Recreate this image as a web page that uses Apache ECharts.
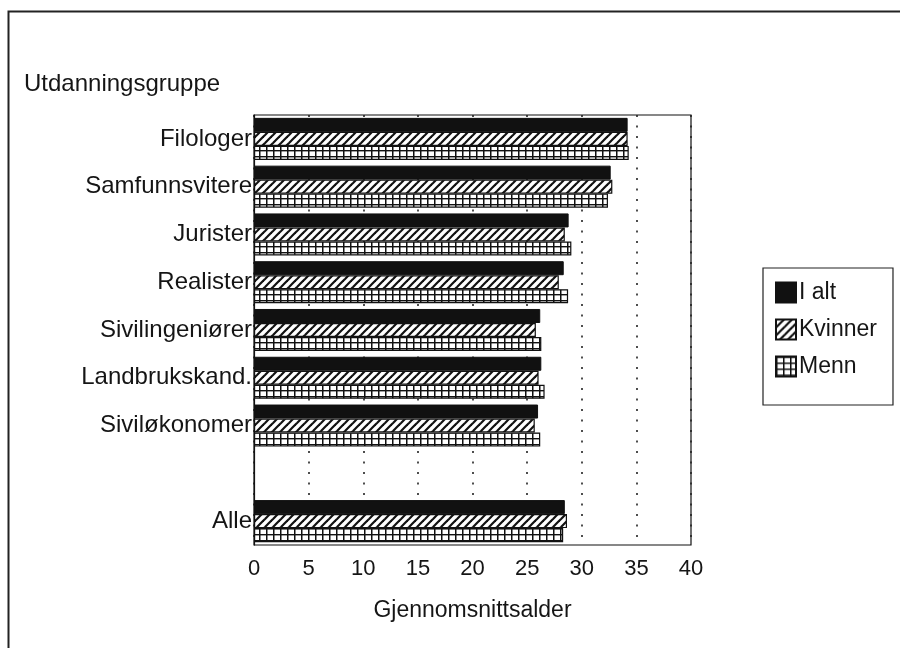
<!DOCTYPE html>
<html><head><meta charset="utf-8">
<script src="https://cdn.jsdelivr.net/npm/echarts@6/dist/echarts.min.js"></script>
<style>html,body{margin:0;padding:0;background:#fff}#c{width:900px;height:648px}</style>
</head><body><div id="c"></div>
<script>
const categories = ['Filologer','Samfunnsvitere','Jurister','Realister','Sivilingeniører','Landbrukskand.','Siviløkonomer','','Alle'];
const iAlt    = [34.2, 32.65, 28.8, 28.35, 26.2, 26.3, 26.0, null, 28.45];
const kvinner = [34.2, 32.8, 28.45, 27.9, 25.8, 26.05, 25.7, null, 28.65];
const menn    = [34.3, 32.4, 29.05, 28.75, 26.3, 26.6, 26.2, null, 28.3];
const xTicks = [0,5,10,15,20,25,30,35,40];

function hatch(){
  const c=document.createElement('canvas'); c.width=8; c.height=8;
  const g=c.getContext('2d'); g.fillStyle='#fff'; g.fillRect(0,0,8,8);
  g.strokeStyle='#111'; g.lineWidth=2.2; g.lineCap='square';
  for(let k=-1;k<=1;k++){ g.beginPath(); g.moveTo(k*8-1,9); g.lineTo(k*8+9,-1); g.stroke(); }
  return {image:c, repeat:'repeat'};
}
function grid(){
  const c=document.createElement('canvas'); c.width=7; c.height=6;
  const g=c.getContext('2d'); g.fillStyle='#fff'; g.fillRect(0,0,7,6);
  g.fillStyle='#111'; g.fillRect(0,0,1.5,6); g.fillRect(0,0,7,1.4);
  return {image:c, repeat:'repeat'};
}
const font = '"Liberation Sans", Arial, Helvetica, sans-serif';
const FS = 23;
const chart = echarts.init(document.getElementById('c'));
chart.setOption({
  animation:false,
  textStyle:{fontFamily:font, color:'#151515'},
  title:{text:'Utdanningsgruppe', left:24, top:72, padding:0, textStyle:{fontFamily:font, fontSize:24, fontWeight:'normal', color:'#151515'}},
  graphic:[{type:'rect', shape:{x:8.5,y:11.5,width:900,height:648}, style:{fill:'none', stroke:'#222', lineWidth:2}, silent:true}],
  grid:{left:254, right:209, top:115, bottom:103, show:true, borderColor:'#111', borderWidth:1.2, backgroundColor:'transparent'},
  legend:{orient:'vertical', left:763, top:268,
    padding:[13,16,27,12], itemGap:14, itemWidth:20, itemHeight:20,
    borderColor:'#222', borderWidth:1.2, backgroundColor:'#fff',
    textStyle:{fontFamily:font, fontSize:FS, color:'#151515', padding:[0,0,0,-2]},
    icon:'rect', data:['I alt','Kvinner','Menn']},
  xAxis:{type:'value', min:0, max:40, interval:5,
    axisLine:{show:false}, axisTick:{show:false},
    axisLabel:{fontSize:22, color:'#151515', margin:13, fontFamily:font, formatter:v=>xTicks.includes(v)?String(v):''},
    splitLine:{show:true, lineStyle:{color:'#222', type:[2,8.5], width:1.6}},
    name:'Gjennomsnittsalder', nameLocation:'middle', nameGap:54,
    nameTextStyle:{fontSize:FS, color:'#151515', fontFamily:font}},
  yAxis:{type:'category', data:categories, inverse:true,
    axisLine:{show:true, lineStyle:{color:'#111', width:1.2}}, axisTick:{show:false},
    axisLabel:{fontSize:24, color:'#151515', margin:2, fontFamily:font},
    splitLine:{show:false}},
  series:[
    {name:'I alt', type:'bar', data:iAlt, barCategoryGap:'12%', barGap:'0%',
      itemStyle:{color:'#111', borderColor:'#111', borderWidth:1}},
    {name:'Kvinner', type:'bar', data:kvinner, barCategoryGap:'12%', barGap:'0%',
      itemStyle:{color:hatch(), borderColor:'#111', borderWidth:1.2}},
    {name:'Menn', type:'bar', data:menn, barCategoryGap:'12%', barGap:'0%',
      itemStyle:{color:grid(), borderColor:'#111', borderWidth:1.2}}
  ]
});
</script></body></html>
